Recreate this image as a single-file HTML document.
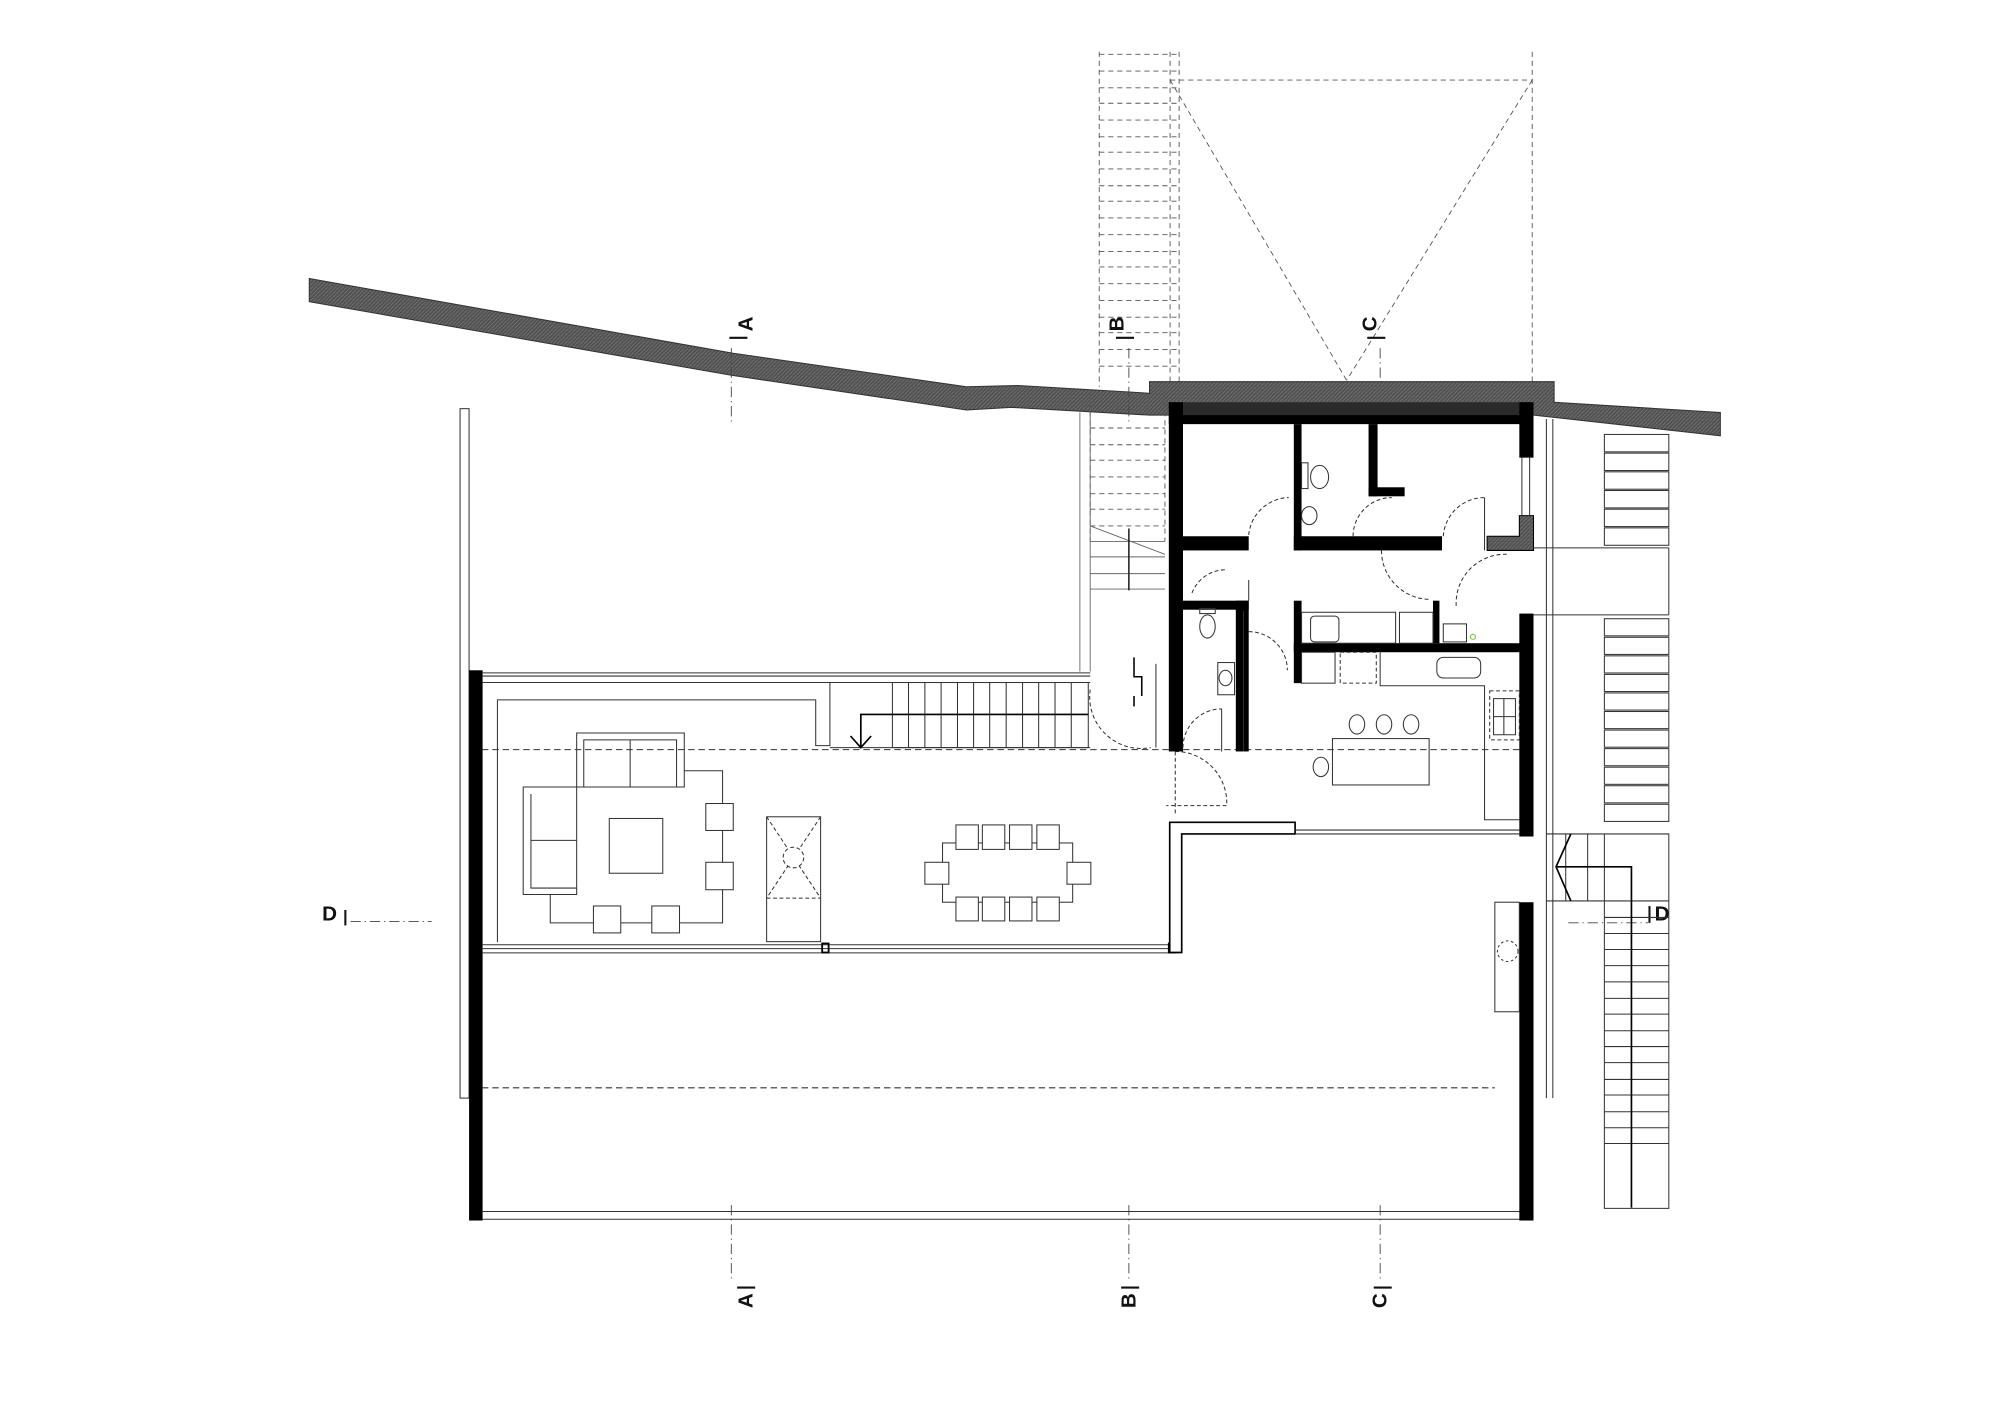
<!DOCTYPE html>
<html><head><meta charset="utf-8"><style>html,body{margin:0;padding:0;background:#fff}svg{display:block}</style></head>
<body>
<svg width="2000" height="1414" viewBox="0 0 1552 1097" xmlns="http://www.w3.org/2000/svg" font-family="Liberation Sans, sans-serif">
<defs>
<pattern id="h" width="3" height="3" patternUnits="userSpaceOnUse"><rect width="3" height="3" fill="#505050"/><path d="M0 3L3 0" stroke="#777" stroke-width="0.6"/></pattern>
</defs>
<g fill="none" stroke="#333" stroke-width="0.8">
<!-- site band -->
<polygon points="240,216 569,274 750,300 790,299 892,305 892,296 1206,296 1206,312 1335,320 1335,338 1190,322 892,322 785,316 750,318 567,291 240,234" fill="url(#h)" stroke="#333"/>
<rect x="907" y="312" width="283" height="10" fill="#2a2a2a" stroke="none"/>

<!-- upper dashed stair -->
<g stroke="#555" stroke-dasharray="4,3" stroke-width="0.7">
<line x1="853" y1="40" x2="853" y2="300"/><line x1="915" y1="40" x2="915" y2="300"/>
<line x1="908" y1="40" x2="908" y2="300"/><line x1="1189" y1="40" x2="1189" y2="300"/>
<line x1="908" y1="62" x2="1189" y2="62"/><line x1="908" y1="62" x2="1045" y2="295"/><line x1="1189" y1="62" x2="1045" y2="295"/>
</g>
<g stroke="#555" stroke-dasharray="4,3" stroke-width="0.7" id="tr">
<line x1="853" y1="42" x2="915" y2="42"/><line x1="853" y1="55" x2="915" y2="55"/><line x1="853" y1="68" x2="915" y2="68"/><line x1="853" y1="80" x2="915" y2="80"/><line x1="853" y1="93" x2="915" y2="93"/><line x1="853" y1="106" x2="915" y2="106"/><line x1="853" y1="118" x2="915" y2="118"/><line x1="853" y1="131" x2="915" y2="131"/><line x1="853" y1="144" x2="915" y2="144"/><line x1="853" y1="156" x2="915" y2="156"/><line x1="853" y1="169" x2="915" y2="169"/><line x1="853" y1="182" x2="915" y2="182"/><line x1="853" y1="195" x2="915" y2="195"/><line x1="853" y1="207" x2="915" y2="207"/><line x1="853" y1="220" x2="915" y2="220"/><line x1="853" y1="233" x2="915" y2="233"/><line x1="853" y1="246" x2="915" y2="246"/><line x1="853" y1="258" x2="915" y2="258"/><line x1="853" y1="271" x2="915" y2="271"/><line x1="853" y1="284" x2="915" y2="284"/>
<line x1="846" y1="332" x2="904" y2="332"/><line x1="846" y1="345" x2="904" y2="345"/><line x1="846" y1="357" x2="904" y2="357"/><line x1="846" y1="370" x2="904" y2="370"/><line x1="846" y1="383" x2="904" y2="383"/><line x1="846" y1="395" x2="904" y2="395"/><line x1="846" y1="408" x2="904" y2="408"/>
<line x1="846" y1="305" x2="846" y2="420"/><line x1="904" y1="305" x2="904" y2="420"/>
</g>
<g stroke="#666" stroke-width="0.7">
<line x1="846" y1="420" x2="904" y2="420"/><line x1="846" y1="432" x2="904" y2="432"/><line x1="846" y1="445" x2="904" y2="445"/><line x1="846" y1="457" x2="904" y2="457"/>
<line x1="846" y1="320" x2="846" y2="521"/><line x1="838" y1="320" x2="838" y2="521"/>
<line x1="846" y1="408" x2="904" y2="430"/>
</g>
<line x1="876" y1="410" x2="876" y2="458" stroke="#222" stroke-width="1.2"/>

<!-- section lines -->
<g stroke="#444" stroke-dasharray="8,3,1,3" stroke-width="0.7">
<line x1="567.5" y1="270" x2="567.5" y2="330"/><line x1="876" y1="270" x2="876" y2="330"/><line x1="1071" y1="270" x2="1071" y2="300"/>
<line x1="567.5" y1="935" x2="567.5" y2="995"/><line x1="876" y1="935" x2="876" y2="995"/><line x1="1071" y1="935" x2="1071" y2="995"/>
<line x1="272" y1="715" x2="335" y2="715"/><line x1="1217" y1="716" x2="1279" y2="716"/>
</g>
</g>
<g fill="#111" font-size="16" font-weight="bold">
<text transform="translate(584,257) rotate(-90)">A</text>
<text transform="translate(872,257) rotate(-90)">B</text>
<text transform="translate(1068,257) rotate(-90)">C</text>
<text transform="translate(584,1015) rotate(-90)">A</text>
<text transform="translate(881,1015) rotate(-90)">B</text>
<text transform="translate(1076,1015) rotate(-90)">C</text>
<text x="250" y="714">D</text>
<text x="1284" y="714">D</text>
</g>
<g stroke="#111" stroke-width="1.6">
<line x1="566" y1="262" x2="580" y2="262"/><line x1="866" y1="262" x2="880" y2="262"/><line x1="1061" y1="262" x2="1075" y2="262"/>
<line x1="572" y1="999" x2="586" y2="999"/><line x1="870" y1="999" x2="884" y2="999"/><line x1="1066" y1="999" x2="1080" y2="999"/>
<line x1="268" y1="706" x2="268" y2="718"/><line x1="1280" y1="703" x2="1280" y2="716"/>
</g>

<g fill="none" stroke="#333" stroke-width="0.8">
<!-- left outer -->
<rect x="357" y="317" width="7" height="535" fill="#fff"/>
<rect x="364" y="520" width="10.5" height="427" fill="#000" stroke="none"/>
<line x1="374" y1="940" x2="1185" y2="940"/><line x1="374" y1="946" x2="1185" y2="946"/>
<line x1="374" y1="844" x2="1160" y2="844" stroke-dasharray="5,3"/>
<line x1="374" y1="522" x2="846" y2="522"/><line x1="374" y1="524.5" x2="846" y2="524.5"/><line x1="374" y1="529.5" x2="846" y2="529.5"/>
<path d="M386 731 V543 H633 V578.5 H644 V529.5 M644 580 H846"/>
<line x1="374" y1="581.6" x2="1179" y2="581.6" stroke-dasharray="5,3"/>
<!-- stair -->
<rect x="692.5" y="529.5" width="152" height="50.5"/>
<path d="M705 529.5V580M717.7 529.5V580M730.3 529.5V580M743 529.5V580M755.5 529.5V580M768 529.5V580M780.8 529.5V580M793.5 529.5V580M806 529.5V580M818.7 529.5V580M831.3 529.5V580"/>
<path d="M844.6 554.3H668V580 M660 571 L668 580 L676 571" stroke="#000" stroke-width="1.3"/>
<!-- door arcs near stair -->
<path d="M846 535 A40 40 0 0 0 893 580" stroke-dasharray="3,2"/>
<line x1="897" y1="515" x2="897" y2="580"/>
<path d="M880 510 V525 H886 V540 M880 540 V548" stroke="#000" stroke-width="1.2"/>
<!-- sofa -->
<path d="M447.5 610.6 V568.7 H531 V610.6 H447.5 M453 610.6 V574 H525 V610.6 M489 574 V610.6"/>
<path d="M447.5 610.6 H406 V694 H447.5 Z M412 616 V689 H447.5 M412 652 H447.5"/>
<path d="M531 598 H560.7 V716 H427 V694"/>
<rect x="472.8" y="635" width="41.5" height="42.5"/>
<rect x="547.7" y="623.4" width="21.3" height="20.9" fill="#fff"/><rect x="547.7" y="669" width="21.3" height="21.3" fill="#fff"/>
<rect x="460.5" y="702.9" width="21.2" height="20.9" fill="#fff"/><rect x="505.8" y="702.9" width="21.5" height="20.9" fill="#fff"/>
<!-- stove -->
<rect x="594.9" y="633.7" width="41.9" height="96.9"/>
<g stroke-dasharray="3,2"><line x1="594.9" y1="633.7" x2="636.8" y2="696.8"/><line x1="636.8" y1="633.7" x2="594.9" y2="696.8"/><line x1="594.9" y1="696.8" x2="636.8" y2="696.8"/><circle cx="615.7" cy="665.3" r="8" fill="#fff"/></g>
<!-- dining -->
<rect x="731.4" y="654" width="101" height="46"/>
<g fill="#fff"><rect x="741.8" y="640" width="17.4" height="19"/><rect x="762.3" y="640" width="17.4" height="19"/><rect x="783.4" y="640" width="17.4" height="19"/><rect x="804.6" y="640" width="17.4" height="19"/>
<rect x="741.8" y="696" width="17.4" height="18.5"/><rect x="762.3" y="696" width="17.4" height="18.5"/><rect x="783.4" y="696" width="17.4" height="18.5"/><rect x="804.6" y="696" width="17.4" height="18.5"/>
<rect x="717.7" y="669" width="18.6" height="17"/><rect x="828" y="669" width="18.5" height="17"/></g>
<!-- glazing -->
<line x1="374" y1="733" x2="908" y2="733"/><line x1="374" y1="736" x2="908" y2="736"/><line x1="374" y1="739.3" x2="908" y2="739.3"/>
<rect x="638" y="732" width="5" height="7" stroke="#000" stroke-width="1.4"/><rect x="907" y="732" width="5" height="7" stroke="#000" stroke-width="1.4"/>
<path d="M907.7 739 V638 H1005 V647 H917 V739 Z" fill="#fff" stroke="#000" stroke-width="1.3"/>
<line x1="1005" y1="644" x2="1179" y2="644"/><line x1="1005" y1="647" x2="1179" y2="647"/>
<path d="M912 583 A40 40 0 0 1 952 623 V625 H905" stroke-dasharray="3,2"/>
<line x1="912" y1="583" x2="912" y2="633" stroke-dasharray="3,2"/>

<!-- core walls -->
<g fill="#000" stroke="none">
<rect x="907" y="322" width="283" height="7"/>
<rect x="907" y="312" width="11" height="271"/>
<rect x="918" y="416" width="51" height="11"/>
<rect x="1004" y="329" width="6" height="98"/>
<rect x="1004" y="416" width="115" height="11"/>
<rect x="1062" y="329" width="7" height="56"/><rect x="1062" y="378" width="28" height="7"/>
<rect x="1179" y="312" width="11" height="43"/>
<rect x="1179" y="476" width="11" height="173"/>
<rect x="918" y="466" width="51" height="7"/>
<rect x="959" y="466" width="10" height="117"/>
<rect x="1004" y="466" width="6" height="64"/>
<rect x="1004" y="499" width="186" height="7"/>
<rect x="1112" y="466" width="5" height="33"/>
<rect x="1179" y="700" width="11" height="247"/>
</g>
<path d="M1154 416 H1179 V400 H1190 V427 H1154 Z" fill="url(#h)" stroke="#000"/>
<line x1="1181" y1="355" x2="1181" y2="400"/><line x1="1187" y1="355" x2="1187" y2="400"/>
<line x1="1200" y1="325" x2="1200" y2="852"/><line x1="1205" y1="325" x2="1205" y2="852"/>
<line x1="1190" y1="425" x2="1295" y2="425"/><line x1="1190" y1="477" x2="1295" y2="477"/><line x1="1295" y1="425" x2="1295" y2="477"/>
<!-- bathroom fixtures -->
<ellipse cx="1024" cy="370" rx="7" ry="9"/><rect x="1010" y="359" width="5" height="20"/>
<ellipse cx="1016" cy="400" rx="6" ry="7"/>
<ellipse cx="937" cy="486" rx="6" ry="9"/><rect x="931" y="472" width="12" height="4"/>
<rect x="945" y="514" width="13" height="25"/><ellipse cx="951" cy="526" rx="5" ry="6"/>
<line x1="965" y1="474" x2="965" y2="583"/>
<!-- door arcs -->
<g stroke-dasharray="3,2">
<path d="M969 415 A32 32 0 0 1 1000 386"/><path d="M1050 416 A30 30 0 0 1 1080 386"/>
<path d="M1120 416 A32 32 0 0 1 1152 386"/>
<path d="M925 460 A28 28 0 0 1 952 442"/>
<path d="M1072 427 A38 38 0 0 0 1110 465"/><path d="M1130 470 A38 38 0 0 1 1170 430"/>
<path d="M969 490 A30 30 0 0 1 999 520"/>
<path d="M918 580 A30 30 0 0 1 948 550"/>
</g>
<line x1="1152" y1="386" x2="1152" y2="427"/><line x1="969" y1="450" x2="969" y2="466" />
<line x1="948" y1="550" x2="948" y2="583"/>
<!-- kitchen -->
<rect x="1010" y="475" width="73" height="24"/><rect x="1017" y="478" width="22" height="20" rx="3"/>
<rect x="1086" y="475" width="26" height="24"/>
<rect x="1120" y="484" width="18" height="14"/><circle cx="1143" cy="494" r="2" stroke="#7c3"/>
<rect x="1010" y="506" width="26" height="24"/>
<rect x="1040" y="506" width="28" height="24" stroke-dasharray="3,2"/>
<path d="M1071 506 V532 H1152 V636 H1179"/>
<rect x="1115" y="510" width="34" height="16" rx="5"/>
<rect x="1156" y="536" width="23" height="38" stroke-dasharray="3,2"/>
<path d="M1159 542 H1176 V570 H1159 Z M1167 542 V570 M1159 556 H1176"/>
<rect x="1034" y="573" width="75" height="36"/>
<ellipse cx="1053" cy="562" rx="6" ry="7.5"/><ellipse cx="1074" cy="562" rx="6" ry="7.5"/><ellipse cx="1095" cy="562" rx="6" ry="7.5"/>
<ellipse cx="1025" cy="595" rx="6" ry="7.5"/>
<!-- lower right -->
<rect x="1160" y="700" width="19" height="85"/><circle cx="1170" cy="738" r="8" stroke-dasharray="2,2"/>
<!-- right stair boxes upper -->
<g>
<rect x="1245" y="337" width="50" height="13.5"/><rect x="1245" y="351.5" width="50" height="13.5"/><rect x="1245" y="366" width="50" height="13.5"/><rect x="1245" y="380.5" width="50" height="13.5"/><rect x="1245" y="395" width="50" height="13.5"/><rect x="1245" y="409.5" width="50" height="13.5"/>
<rect x="1245" y="480" width="50" height="13.3"/><rect x="1245" y="494.4" width="50" height="13.3"/><rect x="1245" y="508.8" width="50" height="13.3"/><rect x="1245" y="523.2" width="50" height="13.3"/><rect x="1245" y="537.6" width="50" height="13.3"/><rect x="1245" y="552" width="50" height="13.3"/><rect x="1245" y="566.4" width="50" height="13.3"/><rect x="1245" y="580.8" width="50" height="13.3"/><rect x="1245" y="595.2" width="50" height="13.3"/><rect x="1245" y="609.6" width="50" height="13.3"/><rect x="1245" y="624" width="50" height="13.3"/>
</g>
<!-- lower right stair -->
<path d="M1200 647 H1295 V937.6 H1245 V647 M1200 699 H1295 M1215 647 V699 M1232 647 V699"/>
<path d="M1245 711.8H1295M1245 724.3H1295M1245 736.7H1295M1245 749.2H1295M1245 761.8H1295M1245 774.6H1295M1245 786.8H1295M1245 799.7H1295M1245 812H1295M1245 824.5H1295M1245 837.5H1295M1245 849.6H1295M1245 862.6H1295M1245 875H1295M1245 887.2H1295"/>
<path d="M1266 937 V672.5 H1207.5 M1219 647 L1207.5 672.5 L1219 699" stroke="#000" stroke-width="1.3"/>
</g>
</svg>
</body></html>
